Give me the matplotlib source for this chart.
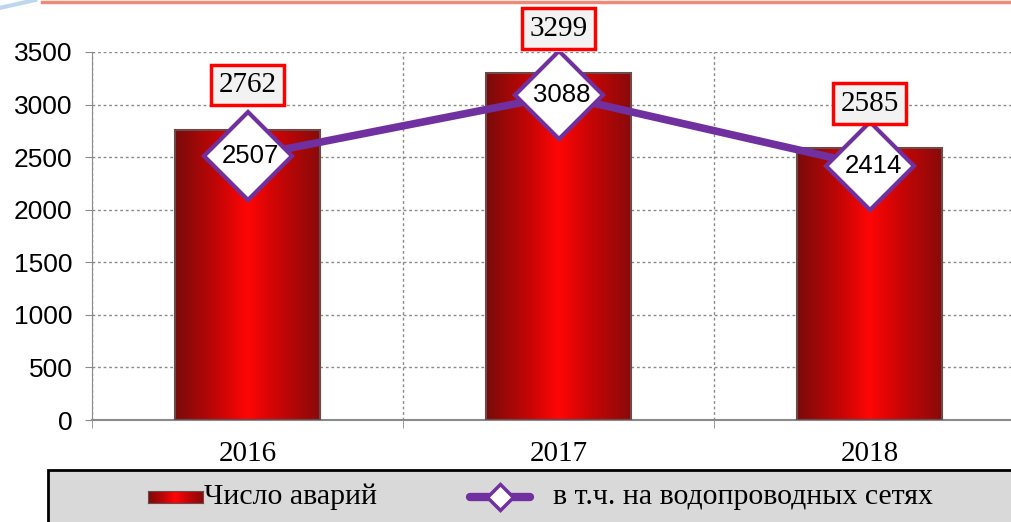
import numpy as np
import matplotlib.pyplot as plt
from matplotlib.colors import LinearSegmentedColormap
from matplotlib.patches import Rectangle
from matplotlib.lines import Line2D

# данные
years = ['2016', '2017', '2018']
accidents = [2762, 3299, 2585]        # Число аварий
water_network = [2507, 3088, 2414]    # в т.ч. на водопроводных сетях
yticks = [0, 500, 1000, 1500, 2000, 2500, 3000, 3500]

purple = '#7030A0'
red_cmap = LinearSegmentedColormap.from_list(
    'bar', ['#7a0b0b', '#b80606', '#ff0505', '#c00606', '#8a0a0a'])
grad = np.linspace(0, 1, 256).reshape(1, -1)

fig = plt.figure(figsize=(10.11, 5.22), dpi=100)
ax = fig.add_axes([0.091, 0.1954, 0.9233, 0.705])
x = np.arange(len(years))

# столбцы с градиентом
bars = ax.bar(x, accidents, width=0.466, color='none', edgecolor='#6b4a4a',
              linewidth=1.5, zorder=3)
for b in bars:
    im = ax.imshow(grad, cmap=red_cmap, aspect='auto', zorder=2,
                   extent=[b.get_x(), b.get_x() + b.get_width(), 0, b.get_height()])
    im.set_clip_path(b)

# линия
ax.plot(x, water_network, color=purple, lw=5.5, marker='D', ms=45,
        mfc='white', mec=purple, mew=3, zorder=4)
for xi, v in zip(x, water_network):
    ax.text(xi + 0.01, v, str(v), ha='center', va='center', fontsize=18.5,
            family='Liberation Sans', zorder=5)

# подписи столбцов
for xi, v in zip(x, accidents):
    ax.annotate(str(v), (xi, v), xytext=(0, 32), textcoords='offset points',
                ha='center', va='center', fontsize=21, family='Liberation Serif',
                bbox=dict(boxstyle='square,pad=0.25', fc='#F2F2F2', ec='#FF0000', lw=2.5),
                annotation_clip=False, zorder=6)

ax.set_xlim(-0.5, 2.5)
ax.set_ylim(0, 3500)
ax.set_yticks(yticks)
ax.set_xticks(x)
ax.set_xticklabels(years, family='Liberation Serif')
ax.set_xticks([-0.5, 0.5, 1.5, 2.5], minor=True)
for lab in ax.get_yticklabels():
    lab.set_family('Liberation Sans')

ax.yaxis.grid(True, linestyle=(0, (2, 2)), color='#8a8a8a', lw=1)
ax.xaxis.grid(True, which='minor', linestyle=(0, (2, 2)), color='#8a8a8a', lw=1)
ax.set_axisbelow(True)
for s in ['top', 'right']:
    ax.spines[s].set_visible(False)
ax.spines['left'].set_color('#8a8a8a')
ax.spines['bottom'].set_color('#8a8a8a')
ax.spines['bottom'].set_linewidth(1.5)
ax.tick_params(axis='x', which='major', length=0, pad=15, labelsize=21)
ax.tick_params(axis='x', which='minor', length=6, color='#8a8a8a')
ax.tick_params(axis='y', length=5, color='#8a8a8a', labelsize=19, pad=9)

# легенда
fig.add_artist(Rectangle((48 / 1011, -0.02), 1.0, 0.1196, transform=fig.transFigure,
                         fc='#D9D9D9', ec='black', lw=2, zorder=-1))
lax = fig.add_axes([148 / 1011, 1 - 503 / 522, 55 / 1011, 12 / 522])
lax.imshow(grad, cmap=red_cmap, aspect='auto')
lax.set_xticks([])
lax.set_yticks([])
for s in lax.spines.values():
    s.set_color('#6b4a4a')
ly = 1 - 497 / 522
fig.text(204 / 1011, ly, 'Число аварий', va='center', ha='left', fontsize=21.5,
         family='Liberation Serif')
fig.add_artist(Line2D([470 / 1011, 530 / 1011], [ly, ly], transform=fig.transFigure,
                      color=purple, lw=6, solid_capstyle='round'))
fig.add_artist(Line2D([500 / 1011], [ly], transform=fig.transFigure, marker='D', ms=13,
                      mfc='white', mec=purple, mew=2.5))
fig.text(553 / 1011, ly, 'в т.ч. на водопроводных сетях', va='center', ha='left',
         fontsize=21.5, family='Liberation Serif')

# полоса сверху
fig.add_artist(Line2D([42 / 1011, 1], [0.996, 0.996], transform=fig.transFigure,
                      color='#EE8A78', lw=2.5))
fig.add_artist(Line2D([0, 0.035], [0.985, 1.0], transform=fig.transFigure,
                      color='#7fb0de', lw=3, alpha=0.5))

fig.savefig('out.png', dpi=100)
